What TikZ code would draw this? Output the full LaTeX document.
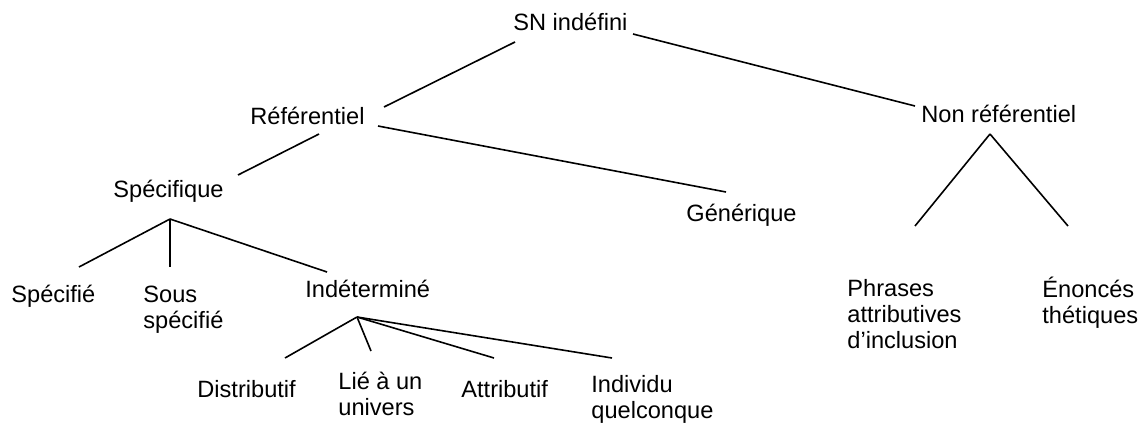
\documentclass[tikz,border=0pt]{standalone}
\usepackage{fontspec}
\setmainfont{Liberation Sans}

\begin{document}
\begin{tikzpicture}[x=0.5pt, y=-0.5pt,
  label/.style={anchor=base west, inner sep=0pt, align=left, font=\fontsize{11.8}{12.8}\selectfont},
  branch/.style={line width=0.8pt}]
  \useasboundingbox (0,0) rectangle (1146,428);

  % Top levels
  \node[label] (sn) at (513,31) {SN indéfini};
  \node[label] (ref) at (250,124) {Référentiel};
  \node[label] (nonref) at (921,122) {Non référentiel};
  \node[label] (spec) at (113,197) {Spécifique};
  \node[label] (gen) at (686,221) {Générique};

  % Specific subtypes (base = last line)
  \node[label] (specifie) at (11,302) {Spécifié};
  \node[label] (sousspec) at (143,328) {Sous\\spécifié};
  \node[label] (indet) at (305,297) {Indéterminé};

  % Undetermined subtypes
  \node[label] (distr) at (197,397) {Distributif};
  \node[label] (lie) at (338,415) {Lié à un\\univers};
  \node[label] (attr) at (461,397) {Attributif};
  \node[label] (indiv) at (591,418) {Individu\\quelconque};

  % Non referential subtypes
  \node[label] (phrases) at (847,348) {Phrases\\attributives\\d’inclusion};
  \node[label] (enonces) at (1042,323) {Énoncés\\thétiques};

  % Connector ends
  \coordinate (sn-left) at (515,42);
  \coordinate (sn-right) at (633,34);
  \coordinate (ref-up) at (384,107);
  \coordinate (ref-down) at (319,134);
  \coordinate (ref-right) at (378,126);
  \coordinate (spec-up) at (238,175);
  \coordinate (spec-down) at (170,219);
  \coordinate (gen-up) at (726,192);
  \coordinate (nonref-up) at (915,106);
  \coordinate (nonref-down) at (990,134);
  \coordinate (indet-down) at (357,317);

  % Branches
  \draw[branch] (sn-left) -- (ref-up);
  \draw[branch] (sn-right) -- (nonref-up);
  \draw[branch] (ref-down) -- (spec-up);
  \draw[branch] (ref-right) -- (gen-up);

  \foreach \n/\x/\y in {specifie/79/267, sousspec/170/267, indet/327/272}
  {
    \coordinate (\n-up) at (\x,\y);
    \draw[branch] (spec-down) -- (\n-up);
  }

  \foreach \n/\x/\y in {distr/285/358, lie/371/351, attr/494/358, indiv/612/358}
  {
    \coordinate (\n-up) at (\x,\y);
    \draw[branch] (indet-down) -- (\n-up);
  }

  \foreach \n/\x/\y in {phrases/915/226, enonces/1068/226}
  {
    \coordinate (\n-up) at (\x,\y);
    \draw[branch] (nonref-down) -- (\n-up);
  }
\end{tikzpicture}
\end{document}
